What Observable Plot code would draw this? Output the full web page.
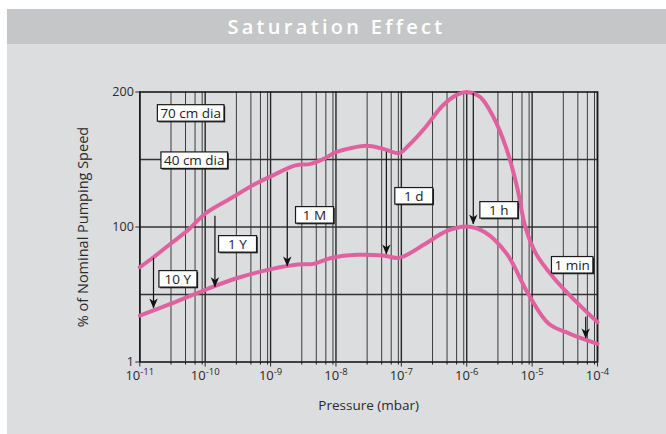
<!DOCTYPE html>
<html>
<head>
<meta charset="utf-8">
<script src="https://cdn.jsdelivr.net/npm/d3@7"></script>
<script src="https://cdn.jsdelivr.net/npm/@observablehq/plot@0.6"></script>
<style>
  html, body { margin: 0; padding: 0; background: #fff; }
  body { width: 666px; height: 434px; overflow: hidden; position: relative; }
  #wrap { position: absolute; left: 7px; top: 9px; width: 659px; height: 425px; background: #dcdddf; }
  #title { height: 35px; line-height: 35px; background: #c5c6c8; color: #fff; text-align: center;
           font-family: "Open Sans", sans-serif; font-weight: 600; font-size: 20px; letter-spacing: 3.3px; }
  #chart svg { display: block; }
</style>
</head>
<body>
<div id="wrap">
  <div id="title">Saturation Effect</div>
  <div id="chart"></div>
</div>
<script>
// ---- data (pressure in mbar, % of nominal pumping speed as drawn on the vertical scale) ----
const pressureUpper = [1e-11, 1.62e-11, 2.95e-11, 5.37e-11, 1e-10, 2.4e-10, 5.9e-10, 1.07e-9, 2.4e-9, 4.1e-9,
  6.5e-9, 1e-8, 1.8e-8, 2.95e-8, 5.25e-8, 9.3e-8, 1.29e-7, 2.34e-7, 4.3e-7, 7.2e-7,
  1.05e-6, 1.62e-6, 2.57e-6, 3.98e-6, 5.9e-6, 7.9e-6, 1.15e-5, 2.1e-5, 4.5e-5, 1e-4];
const speedUpper = [70.2, 77.6, 87.6, 97.4, 109.8, 120.9, 132.0, 138.1, 145.6, 146.8,
  150.5, 155.4, 158.7, 160.1, 157.9, 154.7, 160.4, 173.9, 190.0, 198.1,
  199.9, 196.1, 181.3, 159.1, 129.5, 99.9, 80.1, 62.8, 45.6, 29.5];

const pressureLower = [1e-11, 2.95e-11, 1e-10, 3.2e-10, 1.07e-9, 2.6e-9, 4.5e-9, 8.7e-9, 2.1e-8, 5.25e-8,
  9.3e-8, 2.34e-7, 4.9e-7, 1e-6, 1.9e-6, 4.1e-6, 8.7e-6, 1.8e-5, 3.8e-5, 1e-4];
const speedLower = [34.4, 43.1, 53.5, 62.4, 69.0, 72.2, 72.7, 77.2, 79.4, 78.9,
  77.2, 87.6, 96.9, 100.4, 96.1, 80.1, 50.5, 28.3, 20.9, 13.5];

const arrowLabels = ["10 Y", "1 Y", "1 M", "1 d", "1 h", "1 min"];
const arrowPressure = [1.62e-11, 1.41e-10, 1.8e-9, 5.9e-8, 1.26e-6, 6.6e-5];
const arrowFrom = [76.7, 108.0, 140.6, 155.4, 198.9, 33.2];
const arrowTo = [39.6, 55.4, 70.7, 79.6, 101.9, 17.4];
const labelPressure = [3.8e-11, 3.1e-10, 4.7e-9, 1.55e-7, 3.1e-6, 4.1e-5];
const labelSpeed = [61.1, 87.0, 108.5, 122.6, 112.2, 71.5];

const seriesLabels = ["70 cm dia", "40 cm dia"];
const seriesLabelPressure = [6.0e-11, 6.8e-11];
const seriesLabelSpeed = [184, 149];

const xDecades = [1e-11, 1e-10, 1e-9, 1e-8, 1e-7, 1e-6, 1e-5, 1e-4];
const gridMultipliers = [3, 5, 7, 9];
const yTicks = [0, 100, 200];
const yTickLabels = ["1", "100", "200"];
const yGrid = [50, 100, 150];

// ---- chart ----
const minorGrid = xDecades.slice(0, -1).flatMap(d => gridMultipliers.map(m => d * m));
const pink = "#e0619f";
const labelFont = "'Open Sans', sans-serif";
const arrowHead = {
  draw(ctx) {
    ctx.moveTo(0, 0);
    ctx.lineTo(-4.2, -10);
    ctx.lineTo(0, -7.2);
    ctx.lineTo(4.2, -10);
    ctx.closePath();
  }
};

const chart = Plot.plot({
  width: 659,
  height: 390,
  marginLeft: 132.3,
  marginRight: 69,
  marginTop: 47.5,
  marginBottom: 72.5,
  x: { type: "log", domain: [1e-11, 1e-4] },
  y: { domain: [0, 200] },
  style: { background: "transparent", fontFamily: "'Open Sans', sans-serif", fontSize: "12px", color: "#2a2a2a" },
  marks: [
    Plot.ruleX(minorGrid, { stroke: "#3c3c3c", strokeWidth: 1 }),
    Plot.ruleX(xDecades, { stroke: "#262626", strokeWidth: 1.4 }),
    Plot.ruleY(yGrid, { stroke: "#333", strokeWidth: 1.3 }),
    Plot.frame({ stroke: "#1a1a1a", strokeWidth: 1.6 }),
    Plot.axisX({ ticks: minorGrid, tickSize: 3, tickFormat: () => "", stroke: "#1a1a1a" }),
    Plot.axisX({ ticks: xDecades, tickSize: 5, tickPadding: 4, tickFormat: d => String(Math.round(Math.log10(d))),
      label: null, fontSize: 13 }),
    Plot.axisY({ ticks: yTicks, tickSize: 4, tickPadding: 2, tickFormat: d => yTickLabels[yTicks.indexOf(d)],
      label: null, fontSize: 12.5 }),
    Plot.text(["Pressure (mbar)"], { frameAnchor: "bottom", dy: 47.5, fontSize: 13.5, fill: "#2a2a2a" }),
    Plot.text(["% of Nominal Pumping Speed"], { frameAnchor: "left", textAnchor: "middle", dx: -56, rotate: -90,
      fontSize: 14.5, fill: "#2a2a2a" }),
    Plot.line(speedUpper, { x: pressureUpper, y: speedUpper, stroke: pink, strokeWidth: 4, curve: "catmull-rom" }),
    Plot.line(speedLower, { x: pressureLower, y: speedLower, stroke: pink, strokeWidth: 4, curve: "catmull-rom" }),
    Plot.ruleX(arrowPressure, { x: arrowPressure, y1: arrowFrom, y2: arrowTo, stroke: "#111", strokeWidth: 1.2 }),
    Plot.dot(arrowTo, { x: arrowPressure, y: arrowTo, symbol: arrowHead, fill: "#111", stroke: "none", r: 5 }),
    Plot.text(arrowLabels, { x: labelPressure, y: labelSpeed, text: d => d, fontSize: 13.5, fill: "#222", fontFamily: labelFont }),
    Plot.text(seriesLabels, { x: seriesLabelPressure, y: seriesLabelSpeed, text: d => d, fontSize: 13.5, fill: "#222", fontFamily: labelFont })
  ]
});
document.getElementById("chart").appendChild(chart);

const SVGNS = "http://www.w3.org/2000/svg";
const boxed = new Set([...arrowLabels, ...seriesLabels]);
Array.from(chart.querySelectorAll("text")).forEach(t => {
  const s = t.textContent;
  if (/^-\d+$/.test(s)) {
    // superscript exponents on the decade labels
    t.textContent = "";
    const base = document.createElementNS(SVGNS, "tspan");
    base.textContent = "10";
    const sup = document.createElementNS(SVGNS, "tspan");
    sup.textContent = s;
    sup.setAttribute("dy", "-0.55em");
    sup.setAttribute("font-size", "9.5");
    t.appendChild(base);
    t.appendChild(sup);
  } else if (boxed.has(s)) {
    const b = t.getBBox();
    const w = Math.max(38, b.width + 6), h = 16.5;
    const cx = b.x + b.width / 2, cy = b.y + b.height / 2;
    const tr = t.getAttribute("transform");
    const mk = (dx, fill, stroke) => {
      const r = document.createElementNS(SVGNS, "rect");
      r.setAttribute("x", cx - w / 2 + dx);
      r.setAttribute("y", cy - h / 2 + dx);
      r.setAttribute("width", w);
      r.setAttribute("height", h);
      r.setAttribute("fill", fill);
      r.setAttribute("stroke", stroke || "none");
      r.setAttribute("stroke-width", 1.2);
      if (tr) r.setAttribute("transform", tr);
      t.parentNode.insertBefore(r, t);
    };
    mk(1.2, "#1a1a1a", null);
    mk(0, "#fff", "#1a1a1a");
  }
});
</script>
</body>
</html>
